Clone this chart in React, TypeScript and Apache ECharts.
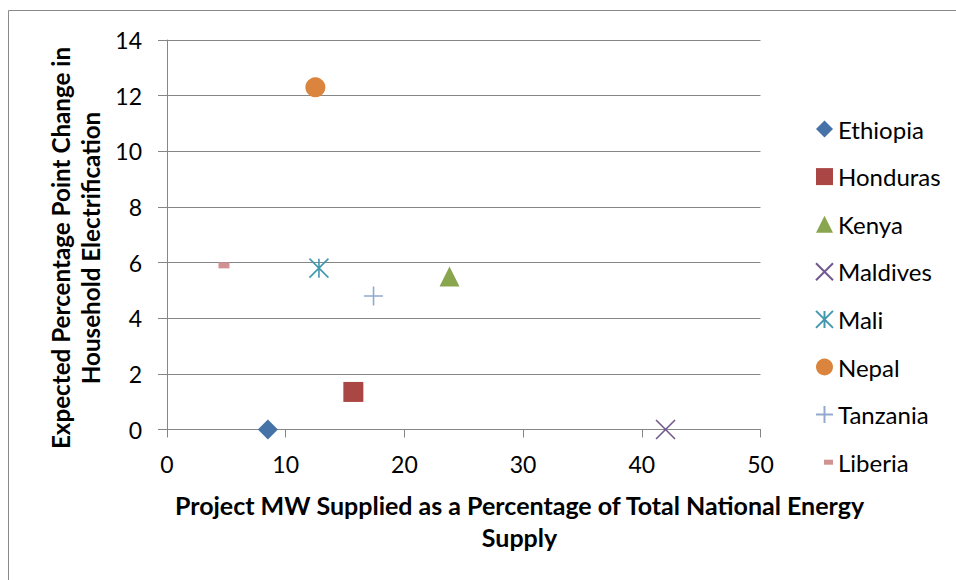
import React, { useEffect, useRef } from "react";
import * as echarts from "echarts";

// Countries plotted, one scatter series each
const countries = ["Ethiopia", "Honduras", "Kenya", "Maldives", "Mali", "Nepal", "Tanzania", "Liberia"];
// Project MW supplied as % of total national energy supply
const supplyShare = [8.5, 15.7, 23.8, 42, 12.8, 12.5, 17.4, 4.8];
// Expected percentage-point change in household electrification
const electrificationChange = [0, 1.35, 5.5, 0, 5.8, 12.3, 4.8, 5.9];

const xTickValues = [0, 10, 20, 30, 40, 50];
const yTickValues = [0, 2, 4, 6, 8, 10, 12, 14];

const xAxisTitle = ["Project MW Supplied as a Percentage of Total National Energy", "Supply"];
const yAxisTitle = ["Expected Percentage Point Change in", "Household Electrification"];

const markerColors = ["#4572A7", "#AA4643", "#89A54E", "#71588F", "#4198AF", "#DB843D", "#93A9CF", "#D19392"];

const FONT = "Lato, 'Noto Sans', sans-serif";
const GRID_COLOR = "#868686";

type Marker = {
  symbol: string;
  size: number | number[];
  stroke?: boolean;
  legendIcon?: string;
};

const markers: Marker[] = [
  { symbol: "diamond", size: 20 },
  { symbol: "rect", size: 20 },
  { symbol: "triangle", size: 20 },
  { symbol: "path://M0,0L20,20M20,0L0,20", size: 19, stroke: true },
  { symbol: "path://M0,0L20,20M20,0L0,20M10,0L10,20", size: 19, stroke: true },
  { symbol: "circle", size: 20 },
  { symbol: "path://M10,0L10,20M0,10L20,10", size: 19, stroke: true },
  { symbol: "rect", size: [11, 6], legendIcon: "path://M0,0M17,17M8,6H17V11H8Z" },
];

export default function App() {
  const ref = useRef<HTMLDivElement>(null);

  useEffect(() => {
    if (!ref.current) return;
    const chart = echarts.init(ref.current, undefined, { renderer: "svg" });

    const series = countries.map((name, i) => {
      const m = markers[i];
      return {
        name,
        type: "scatter",
        clip: false,
        symbol: m.symbol,
        symbolSize: m.size,
        data: [[supplyShare[i], electrificationChange[i]]],
        itemStyle: m.stroke
          ? { color: markerColors[i], borderColor: markerColors[i], borderWidth: 1.6, opacity: 1 }
          : { color: markerColors[i], opacity: 1 },
        emphasis: { disabled: true },
      };
    });

    chart.setOption({
      animation: false,
      backgroundColor: "#ffffff",
      textStyle: { fontFamily: FONT },
      grid: { left: 167, right: 195.5, top: 40, bottom: 150.5, containLabel: false },
      xAxis: {
        type: "value",
        min: xTickValues[0],
        max: xTickValues[xTickValues.length - 1],
        interval: xTickValues[1] - xTickValues[0],
        axisLine: { show: true, lineStyle: { color: GRID_COLOR, width: 1 } },
        axisTick: { show: true, length: 8, lineStyle: { color: GRID_COLOR, width: 1 } },
        splitLine: { show: false },
        axisLabel: {
          color: "#000",
          fontFamily: FONT,
          fontSize: 23,
          margin: 34,
          verticalAlign: "middle",
        },
      },
      yAxis: {
        type: "value",
        min: yTickValues[0],
        max: yTickValues[yTickValues.length - 1],
        interval: yTickValues[1] - yTickValues[0],
        axisLine: { show: true, lineStyle: { color: GRID_COLOR, width: 1 } },
        axisTick: { show: true, length: 9, lineStyle: { color: GRID_COLOR, width: 1 } },
        splitLine: { show: true, lineStyle: { color: GRID_COLOR, width: 1 } },
        axisLabel: { color: "#000", fontFamily: FONT, fontSize: 23, margin: 25 },
      },
      legend: {
        orient: "vertical",
        left: 815,
        top: 117,
        padding: 0,
        itemWidth: 17,
        itemHeight: 17,
        itemGap: 23.6,
        selectedMode: false,
        textStyle: { color: "#000", fontFamily: FONT, fontSize: 24, lineHeight: 24, padding: [0, 0, 0, 0] },
        data: countries.map((name, i) =>
          markers[i].legendIcon ? { name, icon: markers[i].legendIcon } : { name }
        ),
      },
      graphic: [
        {
          type: "rect",
          silent: true,
          shape: { x: 8.5, y: 10.5, width: 1200, height: 1200 },
          style: { fill: "none", stroke: "#8a8a8a", lineWidth: 1 },
        },
        {
          type: "text",
          silent: true,
          x: 519.5,
          y: 505,
          style: { text: xAxisTitle[0], fill: "#000", font: `bold 25px ${FONT}`, textAlign: "center", textVerticalAlign: "middle" },
        },
        {
          type: "text",
          silent: true,
          x: 519.5,
          y: 537,
          style: { text: xAxisTitle[1], fill: "#000", font: `bold 25px ${FONT}`, textAlign: "center", textVerticalAlign: "middle" },
        },
        {
          type: "text",
          silent: true,
          x: 60,
          y: 248,
          rotation: Math.PI / 2,
          style: { text: yAxisTitle[0], fill: "#000", font: `bold 24.2px ${FONT}`, textAlign: "center", textVerticalAlign: "middle" },
        },
        {
          type: "text",
          silent: true,
          x: 90,
          y: 248,
          rotation: Math.PI / 2,
          style: { text: yAxisTitle[1], fill: "#000", font: `bold 24.2px ${FONT}`, textAlign: "center", textVerticalAlign: "middle" },
        },
      ],
      series,
    });

    return () => chart.dispose();
  }, []);

  return (
    <div
      ref={ref}
      style={{ position: "fixed", left: 0, top: 0, width: 956, height: 580, background: "#fff" }}
    />
  );
}
